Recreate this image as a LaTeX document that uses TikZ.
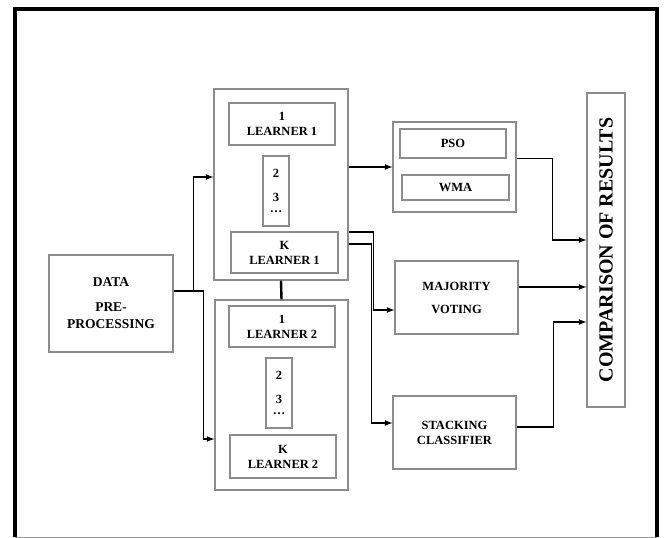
\documentclass[tikz,border=0pt]{standalone}
\usepackage{fontspec}
\setmainfont{Liberation Serif}
\usetikzlibrary{calc}

\begin{document}
\begin{tikzpicture}[x=1pt, y=-1pt,
    box/.style={draw=gray!90, line width=1.1pt, inner sep=0pt, align=center,
                font=\fontsize{12.5}{15}\selectfont\bfseries},
    link/.style={line width=1.6pt}]
            \tikzset{>=latex}

      \useasboundingbox (0,0) rectangle (665,538);
      % outer frame
      \draw[line width=4pt] (15,537) -- (15,9) -- (657,9) -- (657,537);
      \draw[gray!80, line width=1pt] (15,537) -- (657,537);

      \node[box, minimum width=124pt, minimum height=97pt, font=\fontsize{13.5}{17}\selectfont\bfseries] (data) at (111,303.5) {DATA\\[8pt]PRE-\\PROCESSING};

      % learner 1
      \node[box, minimum width=134pt, minimum height=191pt] (learnerA) at (281,184.5) {};
      \node[box, minimum width=106pt, minimum height=42pt] (a1) at (282,124) {1\\LEARNER 1};
      \node[box, minimum width=26pt, minimum height=70pt] (adots) at (276,191) {2\\[9pt]3\\[-4pt]\dots};
      \node[box, minimum width=107pt, minimum height=41pt] (aK) at (284.5,252.5) {K\\LEARNER 1};

      % learner 2
      \node[box, minimum width=133pt, minimum height=190pt] (learnerB) at (281.5,395) {};
      \node[box, minimum width=106pt, minimum height=41pt] (b1) at (282,326.5) {1\\LEARNER 2};
      \node[box, minimum width=26pt, minimum height=70pt] (bdots) at (279,393) {2\\[9pt]3\\[-4pt]\dots};
      \node[box, minimum width=106pt, minimum height=43pt] (bK) at (283,456.5) {K\\LEARNER 2};

      % combiners
      \node[box, minimum width=123pt, minimum height=90pt] (pso) at (454.5,167) {};
      \node[box, minimum width=106pt, minimum height=29pt] (psoin) at (453,143.5) {PSO};
      \node[box, minimum width=107pt, minimum height=25pt] (wma) at (455.5,187.5) {WMA};
      \node[box, minimum width=123pt, minimum height=73pt] (maj) at (456.5,297.5) {MAJORITY\\[8pt]VOTING};
      \node[box, minimum width=123pt, minimum height=73pt] (stk) at (454.5,432.5) {STACKING\\CLASSIFIER};

      \node[box, minimum width=38pt, minimum height=314pt] (cmp) at (606,250) {};
      \node[rotate=90, font=\fontsize{20}{24}\selectfont\bfseries] (cmptext) at (cmp.center) {COMPARISON OF RESULTS};

      % connectors
      \draw[link, ->] (data.east |- 0,291) -- ++(20,0) |- (learnerA.west |- 0,177);
      \draw[link, ->] (data.east |- 0,291) -- ++(30,0) |- (learnerB.west |- 0,439);
      \draw[line width=2.4pt] (learnerA.south) -- (learnerB.north);

      \draw[link, ->] (learnerA.east |- pso.west) -- (pso.west);
      \draw[link, ->] (learnerA.east |- 0,232) -- ++(25,0) |- (maj.west |- 0,310);
      \draw[link, ->] (learnerA.east |- 0,244) -- ++(23,0) |- (stk.west |- 0,423);

      \draw[link, ->] (pso.east |- psoin.south) -- ++(36,0) |- (cmp.west |- 0,240);
      \draw[link, ->] (maj.east |- 0,287) -- (cmp.west |- 0,287);
      \draw[link, ->] (stk.east |- 0,427) -- ++(37,0) |- (cmp.west |- 0,322);
            \end{tikzpicture}
\end{document}
